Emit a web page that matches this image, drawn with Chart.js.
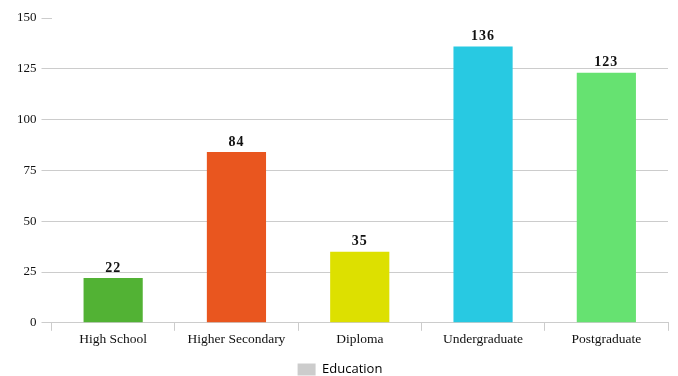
<!DOCTYPE html>
<html>
<head>
<meta charset="utf-8">
<script src="https://cdn.jsdelivr.net/npm/chart.js@4"></script>
<style>
  html, body { margin: 0; padding: 0; background: #fff; }
  #wrap { width: 678px; height: 376px; }
</style>
</head>
<body>
<div id="wrap"><canvas id="myChartBar"></canvas></div>
<script>
const categorias = ['High School', 'Higher Secondary', 'Diploma', 'Undergraduate', 'Postgraduate'];
const valores = [22, 84, 35, 136, 123];
const cores = ['#52b234', '#e9561f', '#dde000', '#28c9e2', '#66e271'];
const yTicks = [0, 25, 50, 75, 100, 125, 150];

// numbers above each bar
const valorNoTopo = {
  id: 'valorNoTopo',
  afterDatasetsDraw(chart) {
    const ctx = chart.ctx;
    ctx.save();
    ctx.font = 'bold 14px "Liberation Serif", serif';
    ctx.fillStyle = '#111';
    ctx.textAlign = 'center';
    ctx.textBaseline = 'bottom';
    if ('letterSpacing' in ctx) ctx.letterSpacing = '1px';
    chart.getDatasetMeta(0).data.forEach((bar, i) => {
      ctx.fillText(valores[i], bar.x, bar.y - 3);
    });
    ctx.restore();
  }
};

const ctx = document.getElementById('myChartBar');
new Chart(ctx, {
  type: 'bar',
  data: {
    labels: categorias,
    datasets: [{
      label: 'Education',
      data: valores,
      backgroundColor: cores,
      barPercentage: 0.48,
      categoryPercentage: 1
    }]
  },
  options: {
    responsive: true,
    maintainAspectRatio: false,
    animation: false,
    layout: { padding: { top: 18, right: 10, left: 12, bottom: -10 } },
    scales: {
      x: {
        afterFit(axis) {
          axis.height += 11; // room between category names and legend
        },
        grid: {
          drawOnChartArea: false,
          drawTicks: true,
          tickLength: 8,
          tickColor: '#ccc',
          offset: true
        },
        border: { color: '#ccc' },
        ticks: {
          color: '#111',
          font: { family: '"Liberation Serif", serif', size: 13.5 },
          padding: 1
        }
      },
      y: {
        min: 0,
        max: 150,
        afterBuildTicks(axis) {
          axis.ticks = yTicks.map(v => ({ value: v }));
        },
        grid: {
          color: c => (c.tick && c.tick.value === 150 ? 'rgba(0,0,0,0)' : '#ccc'),
          tickColor: '#ccc',
          tickLength: 10
        },
        border: { display: false },
        ticks: {
          color: '#111',
          font: { family: '"Liberation Serif", serif', size: 13 },
          padding: 5
        }
      }
    },
    plugins: {
      legend: {
        position: 'bottom',
        labels: {
          boxWidth: 18,
          boxHeight: 12,
          padding: 3,
          color: '#444',
          font: { family: '"Open Sans", sans-serif', size: 13 },
          generateLabels: () => [{
            text: 'Education',
            fillStyle: '#cccccc',
            strokeStyle: '#cccccc',
            lineWidth: 0,
            datasetIndex: 0
          }]
        }
      },
      tooltip: { enabled: false }
    }
  },
  plugins: [valorNoTopo]
});
</script>
</body>
</html>
